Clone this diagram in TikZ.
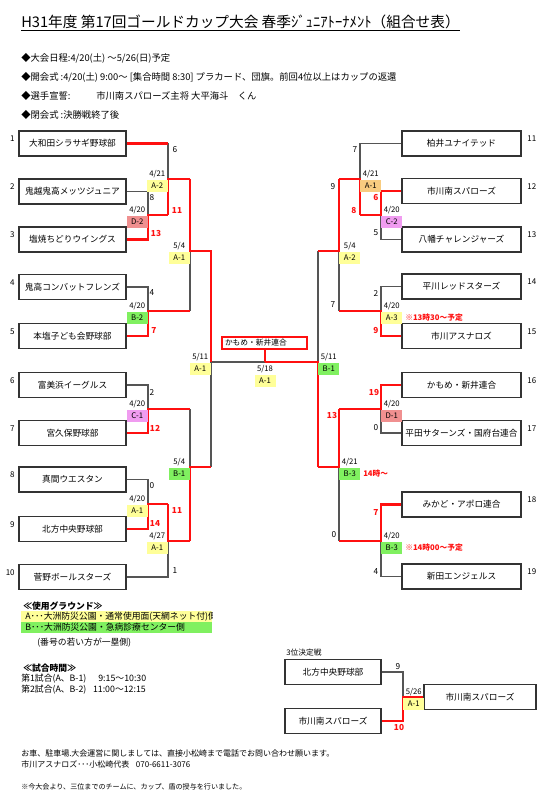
\documentclass[tikz,border=0pt]{standalone}
\usepackage{fontspec}
\setmainfont{Noto Sans CJK JP}
\usetikzlibrary{positioning}

\begin{document}
\begin{tikzpicture}[x=0.75pt, y=-0.75pt,
    team/.style={draw=boxColour, line width=1.1pt, fill=white, inner sep=0pt,
        minimum height=25*0.75pt, font=\fontsize{6.5}{7}\selectfont},
    teamL/.style={team, minimum width=107*0.75pt},
    teamR/.style={team, minimum width=119*0.75pt},
    num/.style={inner sep=0pt, font=\fontsize{6}{7}\selectfont},
    lose/.style={draw=lineGrey, line width=0.8pt},
    win/.style={draw=winRed, line width=1.6pt},
    game/.style={fill=#1, inner sep=0pt, minimum width=21*0.75pt,
        minimum height=12*0.75pt, font=\fontsize{5.8}{7}\selectfont},
    day/.style={inner sep=0pt, font=\fontsize{5.8}{7}\selectfont},
    score/.style={inner sep=0pt, font=\fontsize{6.2}{7}\selectfont},
    rscore/.style={score, text=winRed, font=\fontsize{6.2}{7}\selectfont\bfseries},
    note/.style={anchor=west, inner sep=0pt, text=winRed, font=\fontsize{5.8}{7}\selectfont\bfseries},
    info/.style={anchor=west, inner sep=0pt, font=\fontsize{7}{8}\selectfont},
    small/.style={anchor=west, inner sep=0pt, font=\fontsize{6}{7}\selectfont}
]
    % Define colours
    \definecolor{boxColour}{HTML}{333333}
    \definecolor{lineGrey}{HTML}{555555}
    \definecolor{winRed}{HTML}{FF1010}
    \definecolor{yellowFill}{HTML}{FFFF99}
    \definecolor{greenFill}{HTML}{80F060}
    \definecolor{pinkFill}{HTML}{F09CF0}
    \definecolor{salmonFill}{HTML}{F09090}
    \definecolor{orangeFill}{HTML}{F8CC80}

    % Page frame
    \useasboundingbox (0,0) rectangle (551,809);

    % Title and notices
    \node[anchor=base west, inner sep=0pt, font=\fontsize{11}{12}\selectfont] (title) at (21,28)
        {H31年度 第17回ゴールドカップ大会 春季ｼﾞｭﾆｱﾄｰﾅﾒﾝﾄ（組合せ表）};
    \draw[line width=0.7pt] ([yshift=-2pt]title.base west) -- ([yshift=-2pt]title.base east);
    \node[info] (info1) at (21,58) {◆大会日程:4/20(土) ～5/26(日)予定};
    \node[info] (info2) at (21,77) {◆開会式 :4/20(土) 9:00～ [集合時間 8:30] プラカード、団旗。前回4位以上はカップの返還};
    \node[info] (info3) at (21,96) {◆選手宣誓:};
    \node[info] (oath) at (96,96) {市川南スパローズ主将 大平海斗\hspace{7pt}くん};
    \node[info] (info4) at (21,115) {◆閉会式 :決勝戦終了後};

    % Left teams
    \foreach \n/\y/\name in {1/143.5/大和田シラサギ野球部, 2/191.5/鬼越鬼高メッツジュニア,
        3/239.5/塩焼ちどりウイングス, 4/287/鬼高コンバットフレンズ, 5/336/本塩子ども会野球部,
        6/385/富美浜イーグルス, 7/433/宮久保野球部, 8/479.5/真間ウエスタン,
        9/529/北方中央野球部, 10/577/菅野ボールスターズ}{
        \node[teamL] (T\n) at (72.5,\y) {\name};
        \node[num, anchor=north east] at ([xshift=-2.5pt, yshift=-4pt]T\n.north west) {\n};
    }

    % Right teams
    \foreach \n/\y/\name in {11/143.5/柏井ユナイテッド, 12/191/市川南スパローズ,
        13/239.5/八幡チャレンジャーズ, 14/286.5/平川レッドスターズ, 15/336/市川アスナロズ,
        16/385/かもめ・新井連合, 17/433/平田サターンズ・国府台連合,
        18/504.5/みかど・アポロ連合, 19/576.5/新田エンジェルス}{
        \node[teamR] (T\n) at (461.5,\y) {\name};
        \node[num, anchor=north west] at ([xshift=4pt, yshift=-4pt]T\n.north east) {\n};
    }

    % Match points
    \coordinate (m1) at (148,215);
    \coordinate (m2) at (168,179);
    \coordinate (m3) at (148,311);
    \coordinate (m4) at (190,251);
    \coordinate (m5) at (148,409);
    \coordinate (m6) at (148,504);
    \coordinate (m7) at (168,541);
    \coordinate (m8) at (190,467);
    \coordinate (m9) at (211,362);
    \coordinate (n1) at (381,215);
    \coordinate (n2) at (360,179);
    \coordinate (n3) at (381,311);
    \coordinate (n4) at (339,251);
    \coordinate (n5) at (381,409);
    \coordinate (n6) at (381,541);
    \coordinate (n7) at (339,467);
    \coordinate (n8) at (318,362);
    \coordinate (fin) at (265,362);

    % Losing paths
    \draw[lose] (T2.east) -| (m1);
    \draw[lose] (T1.east -| m2) -- (m2);
    \draw[lose] (T4.east) -| (m3);
    \draw[lose] (m3 -| m4) -- (m4);
    \draw[lose] (T6.east) -| (m5);
    \draw[lose] (T8.east) -| (m6);
    \draw[lose] (T10.east) -| (m7);
    \draw[lose] (m5 -| m8) -- (m8);
    \draw[lose] (m8 -| m9) -- (m9) -- (fin);
    \draw[lose] (T13.west) -| (n1);
    \draw[lose] (T11.west) -| (n2);
    \draw[lose] (T14.west) -| (n3);
    \draw[lose] (n3 -| n4) -- (n4);
    \draw[lose] (T17.west) -| (n5);
    \draw[lose] (T19.west) -| (n6);
    \draw[lose] (n6 -| n7) -- (n7);
    \draw[lose] (n4 -| n8) -- (n8);

    % Winning paths
    \draw[win] (T1.east) -- (T1.east -| m2);
    \draw[win] (T3.east) -| (m1) -- (m1 -| m2);
    \draw[win] (m1 -| m2) -- (m2) -- (m2 -| m4);
    \draw[win] (T5.east) -| (m3) -- (m3 -| m4);
    \draw[win] (m2 -| m4) -- (m4) -- (m4 -| m9) -- (m9);
    \draw[win] (T7.east) -| (m5) -- (m5 -| m8);
    \draw[win] (T9.east) -| (m6) -- (m6 -| m7);
    \draw[win] (m6 -| m7) -- (m7) -- (m7 -| m8);
    \draw[win] (m7 -| m8) -- (m8) -- (m8 -| m9);
    \draw[win] (T12.west) -| (n1) -- (n1 -| n2);
    \draw[win] (n1 -| n2) -- (n2) -- (n2 -| n4);
    \draw[win] (T15.west) -| (n3) -- (n3 -| n4);
    \draw[win] (n2 -| n4) -- (n4) -- (n4 -| n8);
    \draw[win] (T16.west) -| (n5) -- (n5 -| n7);
    \draw[win] (T18.west) -| (n6) -- (n6 -| n7);
    \draw[win] (n5 -| n7) -- (n7) -- (n7 -| n8);
    \draw[win] (n7 -| n8) -- (n8) -- (fin);

    % Champion
    \node[draw=winRed, line width=1.5pt, fill=white, inner ysep=0pt, inner xsep=3*0.75pt,
        text width=79*0.75pt, minimum height=12.5*0.75pt, align=left,
        font=\fontsize{5.8}{7}\selectfont] (F) at (264.5,343) {かもめ・新井連合};
    \draw[win] (fin) -- (F.south -| fin);

    % Match labels, left half
    \foreach \m/\g/\c/\d in {m1/D-2/salmonFill/4\slash20, m2/A-2/yellowFill/4\slash21,
        m3/B-2/greenFill/4\slash20, m4/A-1/yellowFill/5\slash4, m5/C-1/pinkFill/4\slash20,
        m6/A-1/yellowFill/4\slash20, m7/A-1/yellowFill/4\slash27, m8/B-1/greenFill/5\slash4,
        m9/A-1/yellowFill/5\slash11}{
        \node[game=\c, anchor=north east] (g\m) at ([yshift=-0.6pt]\m) {\g};
        \node[day, above=1pt of g\m] {\d};
    }

    % Match labels, right half
    \foreach \m/\g/\c/\d in {n1/C-2/pinkFill/4\slash20, n2/A-1/orangeFill/4\slash21,
        n3/A-3/yellowFill/4\slash20, n4/A-2/yellowFill/5\slash4, n5/D-1/salmonFill/4\slash20,
        n6/B-3/greenFill/4\slash20, n7/B-3/greenFill/4\slash21, n8/B-1/greenFill/5\slash11}{
        \node[game=\c, anchor=north west] (g\m) at ([yshift=-0.6pt]\m) {\g};
        \node[day, above=1pt of g\m] {\d};
    }

    % Final label
    \node[day, anchor=north] (dfin) at ([yshift=-2pt]fin) {5/18};
    \node[game=yellowFill, below=1.5pt of dfin] (gfin) {A-1};

    % Scores, left half
    \node[score] at (175,150) {6};
    \node[score] at (152,198) {8};
    \node[rscore] at (177,210) {11};
    \node[rscore] at (156,233) {13};
    \node[score] at (152,293) {4};
    \node[rscore] at (154,330) {7};
    \node[score] at (152,392) {2};
    \node[rscore] at (155,428) {12};
    \node[score] at (152,486) {0};
    \node[rscore] at (155,523) {14};
    \node[rscore] at (177,510) {11};
    \node[score] at (175,571) {1};

    % Scores, right half
    \node[score] at (355,150) {7};
    \node[score] at (333,187) {9};
    \node[rscore] at (376,198) {6};
    \node[rscore] at (354,210) {8};
    \node[score] at (376,233) {5};
    \node[score] at (376,293) {2};
    \node[score] at (333,305) {7};
    \node[rscore] at (376,330) {9};
    \node[rscore] at (374,392) {19};
    \node[rscore] at (332,415) {13};
    \node[score] at (376,428) {0};
    \node[rscore] at (376,512) {7};
    \node[score] at (334,535) {0};
    \node[score] at (376,572) {4};

    % Time notes
    \node[note] at (405,318) {※13時30～予定};
    \node[note] at (363,474) {14時～};
    \node[note] at (405,548) {※14時00～予定};

    % Third place play-off
    \node[anchor=west, inner sep=0pt, font=\fontsize{5.8}{7}\selectfont] (third) at (286,653) {3位決定戦};
    \node[team, minimum width=96*0.75pt] (P1) at (333,672) {北方中央野球部};
    \node[team, minimum width=96*0.75pt] (P2) at (333,721) {市川南スパローズ};
    \node[team, minimum width=112*0.75pt] (PW) at (480,697) {市川南スパローズ};
    \coordinate (p) at (403,697);
    \draw[lose] (P1.east) -| (p);
    \draw[win] (P2.east) -| (p) -- (PW.west);
    \node[game=yellowFill, anchor=north west] (gp) at ([yshift=-0.6pt]p) {A-1};
    \node[day, above=1pt of gp] {5/26};
    \node[score] at (398,667) {9};
    \node[rscore] at (399,727) {10};

    % Grounds
    \node[small, font=\fontsize{6.6}{7}\selectfont\bfseries] at (23,606) {≪使用グラウンド≫};
    \fill[yellowFill] (21,611) rectangle (212,622);
    \fill[greenFill] (21,622) rectangle (212,633);
    \begin{scope}
        \clip (21,611) rectangle (212,633);
        \node[small, font=\fontsize{6.6}{7}\selectfont] at (25,616.5) {A･･･大洲防災公園・通常使用面(天網ネット付)側};
        \node[small, font=\fontsize{6.6}{7}\selectfont] at (25,627.5) {B･･･大洲防災公園・急病診療センター側};
    \end{scope}
    \node[small, font=\fontsize{6.6}{7}\selectfont] at (37,643) {(番号の若い方が一塁側)};

    % Match times
    \node[small, font=\fontsize{6.6}{7}\selectfont\bfseries] at (23,668) {≪試合時間≫};
    \node[small, font=\fontsize{6.6}{7}\selectfont] at (21,679) {第1試合(A、B-1)\hspace{9pt}9:15～10:30};
    \node[small, font=\fontsize{6.6}{7}\selectfont] at (21,690) {第2試合(A、B-2)\hspace{5pt}11:00～12:15};

    % Contact
    \node[small] at (21,753) {お車、駐車場.大会運営に関しましては、直接小松崎まで電話でお問い合わせ願います。};
    \node[small] at (21,764) {市川アスナロズ･･･小松崎代表\hspace{5pt}070-6611-3076};
    \node[small, font=\fontsize{5.3}{7}\selectfont] at (21,787) {※今大会より、三位までのチームに、カップ、盾の授与を行いました。};
\end{tikzpicture}
\end{document}
